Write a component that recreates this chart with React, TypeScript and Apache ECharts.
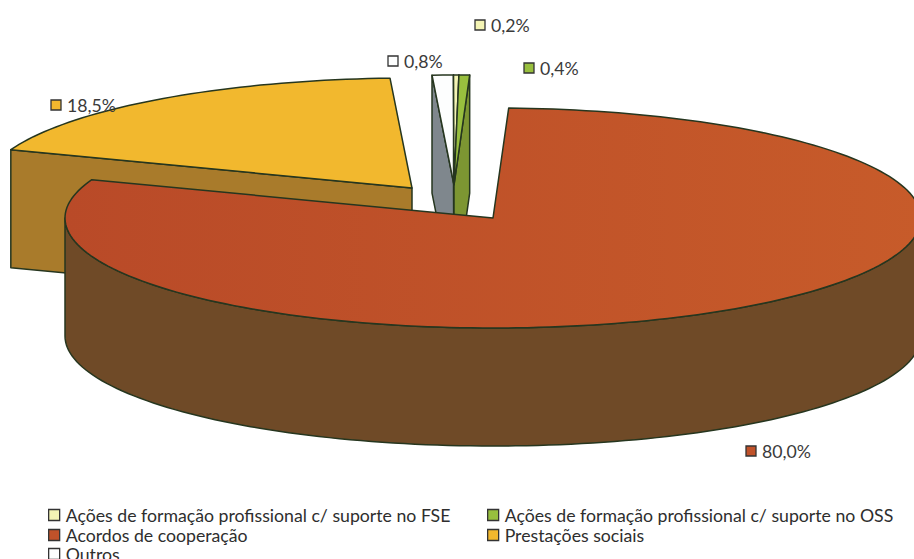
import React, { useEffect, useRef } from "react";
import * as echarts from "echarts";

// Pie order, clockwise
const categories = [
  "Acordos de cooperação",
  "Prestações sociais",
  "Outros",
  "Ações de formação profissional c/ suporte no FSE",
  "Ações de formação profissional c/ suporte no OSS",
];
const shares = [80.0, 18.5, 0.8, 0.2, 0.4];
const valueLabels = ["80,0%", "18,5%", "0,8%", "0,2%", "0,4%"];

// Styles and layout, per slice
const topColors = ["#c0522a", "#f2b82e", "#fdfefe", "#f4f4b4", "#98bf3e"];
const wallColors = ["#6f4a27", "#a97b2b", "#7f878d", "#3f4f2c", "#7d9632"];
const apexes = [[493, 218], [412, 188], [454, 185], [454, 185], [454, 185]];
const labelAnchors = [[751, 451], [56, 105], [393, 61], [480, 25], [529, 68]];
const paintOrder = [1, 2, 3, 4, 0];

const RX = 428;
const RY = 110;
const DEPTH = 118;
const START_DEG = 2.1;
const EDGE = "#26361f";
const FONT = "Lato, sans-serif";
const FONT_SIZE = 17.7;

const total = shares.reduce((a, b) => a + b, 0);

function sliceAngles(index: number, value: number): [number, number] {
  let before = 0;
  for (let i = 0; i < index; i++) before += shares[i];
  const a0 = START_DEG + (before / total) * 360;
  return [a0, a0 + (value / total) * 360];
}

function rim(c: number[], deg: number, dy = 0): number[] {
  const t = (deg * Math.PI) / 180;
  return [c[0] + RX * Math.sin(t), c[1] - RY * Math.cos(t) + dy];
}

function arcPoints(c: number[], a0: number, a1: number, dy = 0): number[][] {
  const n = Math.max(2, Math.ceil((a1 - a0) / 1.5));
  const out: number[][] = [];
  for (let i = 0; i <= n; i++) out.push(rim(c, a0 + ((a1 - a0) * i) / n, dy));
  return out;
}

function poly(points: number[][], fill: any) {
  return {
    type: "polygon",
    shape: { points },
    style: { fill, stroke: EDGE, lineWidth: 1.5, lineJoin: "round" },
  };
}

const redGradient = {
  type: "linear",
  x: 0,
  y: 0,
  x2: 1,
  y2: 0,
  colorStops: [
    { offset: 0, color: "#b94a28" },
    { offset: 1, color: "#c75b2a" },
  ],
};

function makeRender(index: number) {
  return (_params: any, api: any) => {
    const value = api.value(0);
    const [a0, a1] = sliceAngles(index, value);
    const c = apexes[index];
    const children: any[] = [];
    const wall = wallColors[index];
    const down = (p: number[]) => [p[0], p[1] + DEPTH];
    const norm = (d: number) => ((d % 360) + 360) % 360;

    // cut faces seen from the front
    if (norm(a0) > 180) {
      const r = rim(c, a0);
      children.push(poly([c, r, down(r), down(c)], wall));
    }
    if (norm(a1) < 180) {
      const r = rim(c, a1);
      children.push(poly([c, r, down(r), down(c)], wall));
    }
    // outer wall, front half only
    const w0 = Math.max(a0, 90);
    const w1 = Math.min(a1, 270);
    if (w1 > w0) {
      const upper = arcPoints(c, w0, w1);
      const lower = arcPoints(c, w0, w1, DEPTH).reverse();
      children.push(poly([...upper, ...lower], wall));
    }
    // top face
    children.push(poly([c, ...arcPoints(c, a0, a1)], index === 0 ? redGradient : topColors[index]));
    return { type: "group", children };
  };
}

function makeLabel(index: number) {
  return (_params: any, _api: any) => {
    const [x, y] = labelAnchors[index];
    return {
      type: "group",
      children: [
        {
          type: "rect",
          shape: { x: x - 5, y: y - 5, width: 10, height: 10 },
          style: { fill: topColors[index], stroke: "#333", lineWidth: 1.3 },
        },
        {
          type: "text",
          style: {
            text: valueLabels[index],
            x: x + 11,
            y,
            verticalAlign: "middle",
            align: "left",
            font: `${FONT_SIZE}px ${FONT}`,
            fill: "#3a3a3a",
          },
        },
      ],
    };
  };
}

const legendRow = (name: string, left: number, top: number) => ({
  data: [name],
  left,
  top,
  orient: "horizontal",
  icon: "rect",
  itemWidth: 11,
  itemHeight: 11,
  itemGap: 0,
  padding: 0,
  selectedMode: false,
  itemStyle: { borderColor: "#333", borderWidth: 1.3 },
  textStyle: { fontFamily: FONT, fontSize: FONT_SIZE, color: "#2e2e2e", padding: [0, 0, 0, 1] },
});

export default function App() {
  const ref = useRef<HTMLDivElement>(null);
  useEffect(() => {
    const chart = echarts.init(ref.current!, undefined, { renderer: "svg" });
    chart.setOption({
      animation: false,
      backgroundColor: "#ffffff",
      legend: [
        legendRow(categories[3], 48, 506),
        legendRow(categories[4], 487, 506),
        legendRow(categories[0], 48, 526),
        legendRow(categories[1], 487, 526),
        legendRow(categories[2], 48, 545),
      ],
      series: [
        ...paintOrder.map((i) => ({
          type: "custom",
          name: categories[i],
          coordinateSystem: "none",
          silent: true,
          itemStyle: { color: topColors[i] },
          renderItem: makeRender(i),
          data: [[shares[i]]],
          z: 2,
        })),
        ...paintOrder.map((i) => ({
          type: "custom",
          name: "label " + categories[i],
          coordinateSystem: "none",
          silent: true,
          renderItem: makeLabel(i),
          data: [[shares[i]]],
          z: 3,
        })),
      ],
    });
    return () => chart.dispose();
  }, []);
  return (
    <div
      ref={ref}
      style={{ position: "absolute", left: 0, top: 0, width: 914, height: 559, overflow: "hidden" }}
    />
  );
}
